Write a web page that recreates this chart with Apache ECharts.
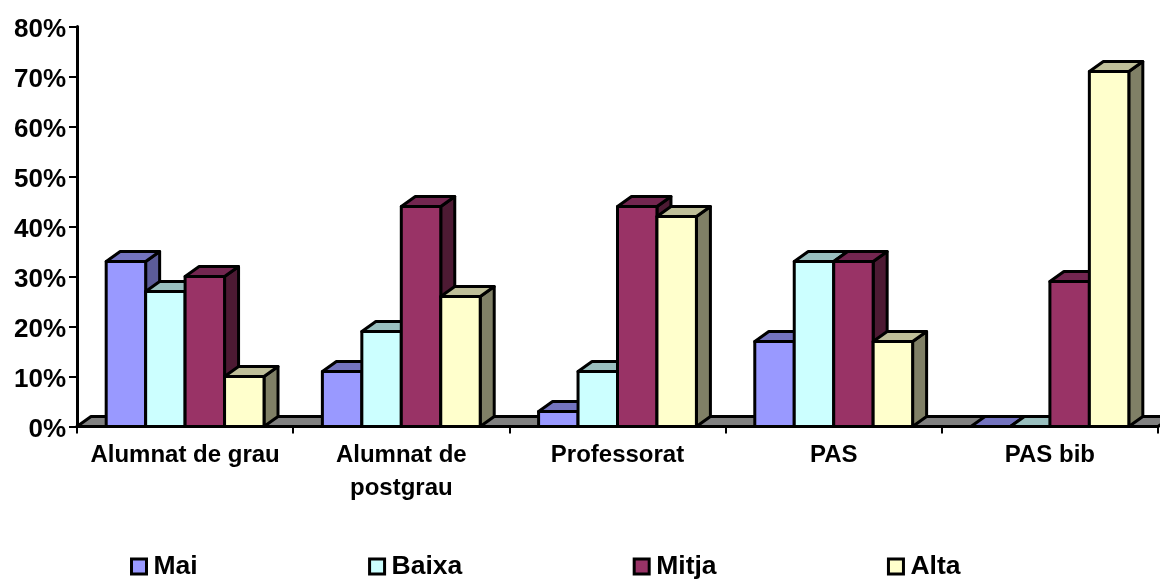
<!DOCTYPE html>
<html><head><meta charset="utf-8">
<style>html,body{margin:0;padding:0;background:#fff}#c{width:1160px;height:581px}</style>
<script src="https://cdn.jsdelivr.net/npm/echarts@6/dist/echarts.min.js"></script>
</head><body><div id="c"></div>
<script>
const categories = ['Alumnat de grau', 'Alumnat de\npostgrau', 'Professorat', 'PAS', 'PAS bib'];
const seriesNames = ['Mai', 'Baixa', 'Mitja', 'Alta'];
const mai = [33, 11, 3, 17, 0];
const baixa = [27, 19, 11, 33, 0];
const mitja = [30, 44, 44, 33, 29];
const alta = [10, 26, 42, 17, 71];
const seriesValues = [mai, baixa, mitja, alta];
const frontColors = ['#9999FF', '#CCFFFF', '#993366', '#FFFFCC'];
const topColors = ['#7373BF', '#99BFBF', '#732650', '#BFBF99'];
const sideColors = ['#5C5C99', '#7A9999', '#4D1A33', '#808066'];

const DX = 14, DY = 10, BAR_RATIO = 0.1825, LW = 3;
const FONT = '"Liberation Sans", Arial, sans-serif';
const chart = echarts.init(document.getElementById('c'), null, {renderer: 'canvas'});

function poly(points, fill) {
  return {type: 'polygon', shape: {points}, style: {fill, stroke: '#000', lineWidth: LW, lineJoin: 'round'}};
}

function barRenderer(si) {
  return function (params, api) {
    const band = api.size([1, 0])[0];
    const w = band * BAR_RATIO;
    const base = api.coord([api.value(0), 0]);
    const top = api.coord([api.value(0), api.value(1)]);
    const x0 = base[0] + (si - 2) * w;
    const x1 = x0 + w;
    const y0 = base[1], y1 = top[1];
    return {type: 'group', children: [
      poly([[x1, y0], [x1 + DX, y0 - DY], [x1 + DX, y1 - DY], [x1, y1]], sideColors[si]),
      poly([[x0, y1], [x0 + DX, y1 - DY], [x1 + DX, y1 - DY], [x1, y1]], topColors[si]),
      poly([[x0, y0], [x1, y0], [x1, y1], [x0, y1]], frontColors[si])
    ]};
  };
}

const floorSeries = {
  type: 'custom', name: 'floor', silent: true, z: 1,
  data: [[0, 0]], encode: {x: 0, y: 1},
  renderItem: function (params) {
    const c = params.coordSys, b = c.y + c.height, l = c.x, r = c.x + c.width;
    return poly([[l, b], [l + DX, b - DY], [r + DX, b - DY], [r, b]], '#808080');
  }
};

const barSeries = seriesNames.map(function (name, si) {
  return {
    type: 'custom', name, silent: true, z: 2 + si,
    data: seriesValues[si].map(function (v, i) { return [i, v]; }),
    encode: {x: 0, y: 1},
    renderItem: barRenderer(si),
    itemStyle: {color: frontColors[si]}
  };
});

chart.setOption({
  animation: false,
  backgroundColor: '#fff',
  grid: {left: 77, right: 2, top: 26.5, bottom: 154.5, containLabel: false},
  legend: {
    data: seriesNames, left: 130, top: 553, itemGap: 170.4, itemWidth: 15, itemHeight: 15,
    icon: 'rect', selectedMode: false, padding: 0,
    itemStyle: {borderColor: '#000', borderWidth: 3},
    textStyle: {fontFamily: FONT, fontWeight: 'bold', fontSize: 26.5, color: '#000', padding: [5, 0, 0, 2]}
  },
  xAxis: {
    type: 'category', data: categories, boundaryGap: true,
    axisLine: {show: true, lineStyle: {color: '#000', width: 3}},
    axisTick: {show: true, alignWithLabel: false, length: 7, lineStyle: {color: '#000', width: 2}},
    axisLabel: {interval: 0, margin: 12, fontFamily: FONT, fontWeight: 'bold', fontSize: 24, lineHeight: 33, color: '#000', hideOverlap: false}
  },
  yAxis: {
    type: 'value', min: 0, max: 80, interval: 10,
    splitLine: {show: false},
    axisLine: {show: true, lineStyle: {color: '#000', width: 3}},
    axisTick: {show: true, length: 8, lineStyle: {color: '#000', width: 2}},
    axisLabel: {margin: 11, verticalAlign: 'top', lineHeight: 6, formatter: '{value}%', fontFamily: FONT, fontWeight: 'bold', fontSize: 26, color: '#000'}
  },
  series: [floorSeries].concat(barSeries)
});
</script></body></html>
